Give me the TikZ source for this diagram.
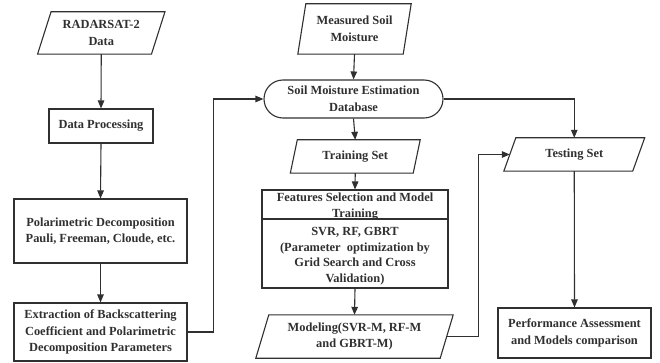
\documentclass[tikz,border=0pt]{standalone}
\usepackage{fontspec}
\setmainfont{Liberation Serif}
\usetikzlibrary{arrows.meta}
\definecolor{ink}{HTML}{303030}
\newcommand\drawpara[2]{\draw[line] ([xshift=#2]#1.north west) -- ([xshift=#2]#1.north east) -- ([xshift=-#2]#1.south east) -- ([xshift=-#2]#1.south west) -- cycle;}
\begin{document}
\begin{tikzpicture}[x=1pt,y=-1pt,
  every node/.style={font=\fontsize{12.4}{16.5}\selectfont\bfseries, text=ink, align=center},
  line/.style={draw=ink, line width=1.1pt},
  box/.style={line, inner sep=0pt},
  pbox/.style={inner sep=0pt},
  arr/.style={line, -{Triangle[length=8pt,width=6.5pt]}}]
\useasboundingbox[fill=white] (0,0) rectangle (660,363);

% left column
\node[pbox, minimum width=113.5pt, minimum height=42pt] (rad) at (101.25,33) {RADARSAT-2\\Data};
\drawpara{rad}{6.75pt}
\node[box, minimum width=104pt, minimum height=34pt] (proc) at (101,126) {Data Processing};
\node[box, minimum width=173pt, minimum height=64pt] (pol) at (100.5,231) {Polarimetric Decomposition\\Pauli, Freeman, Cloude, etc.};
\node[box, minimum width=173pt, minimum height=58pt] (ext) at (100.5,332) {Extraction of Backscattering\\Coefficient and Polarimetric\\Decomposition Parameters};

% middle column
\node[pbox, minimum width=105pt, minimum height=50pt] (meas) at (354.5,29) {Measured Soil\\Moisture};
\drawpara{meas}{4pt}
\node[box, minimum width=179pt, minimum height=38pt, rounded corners=19pt] (db) at (353.5,99) {Soil Moisture Estimation\\Database};
\node[pbox, minimum width=122.5pt, minimum height=33pt] (train) at (355.25,156.5) {Training Set};
\drawpara{train}{3.5pt}
\node[box, minimum width=186pt, minimum height=98pt] (feat) at (355,239) {};
\node[pbox] (feattop) at (355,206.5) {Features Selection and Model\\Training};
\draw[line] (feat.west |- 0,219) coordinate (dl) -- (feat.east |- 0,219) coordinate (dr);
\node[pbox, font=\fontsize{12.4}{15.5}\selectfont\bfseries] (featbot) at (355,256) {SVR, RF, GBRT\\(Parameter\ \ optimization by\\Grid Search and Cross\\Validation)};
\node[pbox, minimum width=184pt, minimum height=43pt] (mod) at (354.5,336.5) {Modeling(SVR-M, RF-M\\and GBRT-M)};
\drawpara{mod}{6.5pt}

% right column
\node[pbox, minimum width=128.5pt, minimum height=33pt] (test) at (574.25,154.5) {Testing Set};
\drawpara{test}{6pt}
\node[box, minimum width=153pt, minimum height=50pt] (perf) at (574.5,333) {Performance Assessment\\and Models comparison};

% connectors
\draw[arr] (rad.south) -- (proc.north);
\draw[arr] (proc.south) -- (pol.north);
\draw[arr] (pol.south) -- (ext.north);
\draw[arr] (ext.east) -- ++(25.5,0) coordinate (c1) |- (db.west);
\draw[arr] (meas.south) -- (db.north);
\draw[arr] (db.south) -- (train.north);
\draw[arr] (train.south) -- (feat.north);
\draw[arr] (feat.south) -- (mod.north);
\draw[arr] (db.east) -| (test.north);
\draw[arr] (mod.east) -- ++(31.5,0) coordinate (c2) |- (test.west);
\draw[arr] (test.south) -- (perf.north);
\end{tikzpicture}
\end{document}
